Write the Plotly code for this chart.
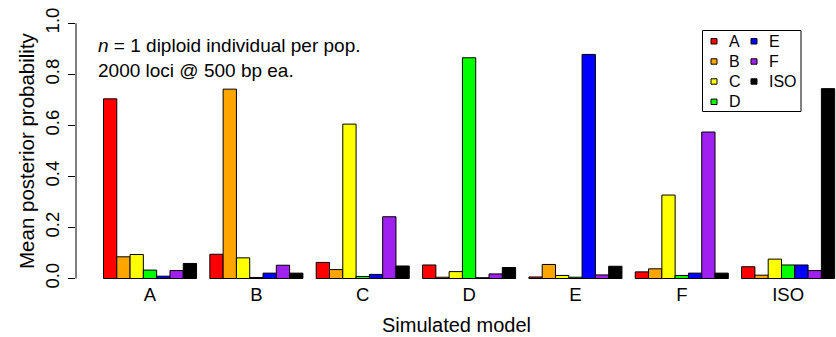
import plotly.graph_objects as go

# ---- data ----
categories = ["A", "B", "C", "D", "E", "F", "ISO"]
series_names = ["A", "B", "C", "D", "E", "F", "ISO"]
val_A = [0.704, 0.095, 0.063, 0.053, 0.006, 0.026, 0.046]
val_B = [0.085, 0.742, 0.035, 0.005, 0.055, 0.038, 0.013]
val_C = [0.094, 0.081, 0.605, 0.027, 0.012, 0.327, 0.076]
val_D = [0.033, 0.004, 0.008, 0.865, 0.005, 0.012, 0.053]
val_E = [0.009, 0.021, 0.016, 0.003, 0.878, 0.021, 0.053]
val_F = [0.031, 0.052, 0.242, 0.018, 0.014, 0.574, 0.031]
val_ISO = [0.059, 0.021, 0.049, 0.043, 0.048, 0.021, 0.744]
series_values = [val_A, val_B, val_C, val_D, val_E, val_F, val_ISO]
y_ticks = [0.0, 0.2, 0.4, 0.6, 0.8, 1.0]

colors = ["#FF0000", "#FFA500", "#FFFF00", "#00FF00", "#0000FF", "#A020F0", "#000000"]

# ---- geometry ----
W, H = 836, 337
ML, MR, MT, MB = 76, 0, 13, 56
PW, PH = W - ML - MR, H - MT - MB
FONT = "Liberation Sans, Arial, Helvetica, sans-serif"

def px_x(x):
    return (x - ML) / PW

def px_y(y):
    return (H - MB - y) / PH

fig = go.Figure()
for name, vals, col in zip(series_names, series_values, colors):
    fig.add_trace(go.Bar(
        x=categories, y=vals, name=name,
        marker=dict(color=col, line=dict(color="black", width=1)),
        showlegend=False, cliponaxis=False,
    ))

# y axis line from 0 to 1 (R style)
fig.add_shape(type="line", xref="paper", yref="y", x0=0, x1=0, y0=0, y1=1,
              line=dict(color="black", width=1))

# axis titles
fig.add_annotation(xref="paper", yref="paper", x=px_x(456), y=px_y(324.5),
                   xanchor="center", yanchor="middle", showarrow=False,
                   text="Simulated model", font=dict(family=FONT, size=20, color="black"))
fig.add_annotation(xref="paper", yref="paper", x=px_x(26), y=px_y(151),
                   xanchor="center", yanchor="middle", showarrow=False, textangle=-90,
                   text="Mean posterior probability", font=dict(family=FONT, size=20.5, color="black"))

# annotation text
fig.add_annotation(xref="paper", yref="paper", x=px_x(96), y=px_y(45),
                   xanchor="left", yanchor="middle", showarrow=False,
                   text="<i>n</i> = 1 diploid individual per pop.",
                   font=dict(family=FONT, size=19, color="black"))
fig.add_annotation(xref="paper", yref="paper", x=px_x(96), y=px_y(71),
                   xanchor="left", yanchor="middle", showarrow=False,
                   text="2000 loci @ 500 bp ea.",
                   font=dict(family=FONT, size=19, color="black"))

# legend box (drawn manually, R style two columns)
fig.add_shape(type="rect", xref="paper", yref="paper",
              x0=px_x(702.5), x1=px_x(801), y0=px_y(111.5), y1=px_y(30.5),
              line=dict(color="black", width=1), fillcolor="white")
col_x = [714, 754]
row_y = [41.3, 61.5, 81.5, 101.8]
for i, (name, col) in enumerate(zip(series_names, colors)):
    c = 0 if i < 4 else 1
    r = i if i < 4 else i - 4
    cx, cy = col_x[c], row_y[r]
    fig.add_shape(type="rect", xref="paper", yref="paper",
                  x0=px_x(cx - 3), x1=px_x(cx + 3), y0=px_y(cy + 2.7), y1=px_y(cy - 2.7),
                  line=dict(color="black", width=1), fillcolor=col)
    fig.add_annotation(xref="paper", yref="paper", x=px_x(cx + 12.5), y=px_y(cy),
                       xanchor="left", yanchor="middle", showarrow=False, text=name,
                       font=dict(family=FONT, size=16, color="black"))

fig.update_layout(
    width=W, height=H,
    margin=dict(l=ML, r=MR, t=MT, b=MB, pad=0, autoexpand=False),
    paper_bgcolor="white", plot_bgcolor="white",
    barmode="group", bargap=0.125, bargroupgap=0,
    font=dict(family=FONT, color="black"),
    showlegend=False,
)
fig.update_xaxes(
    automargin=False,
    range=[-0.696, 6.45], showgrid=False, zeroline=False, showline=False,
    ticks="", ticklabelstandoff=0, tickfont=dict(size=18.5, family=FONT, color="black"),
)
fig.update_yaxes(
    automargin=False,
    range=[-0.0098, 1.0404], showgrid=False, zeroline=False, showline=False,
    tickvals=y_ticks, tickformat=".1f", ticks="outside", ticklen=7, tickcolor="black",
    ticklabelstandoff=2,
    tickangle=-90, tickfont=dict(size=18.5, family=FONT, color="black"),
)

fig.write_html(
    "out.html",
    config={"displayModeBar": False},
    post_script="document.body.style.margin='0px';document.body.style.overflow='hidden';",
)
